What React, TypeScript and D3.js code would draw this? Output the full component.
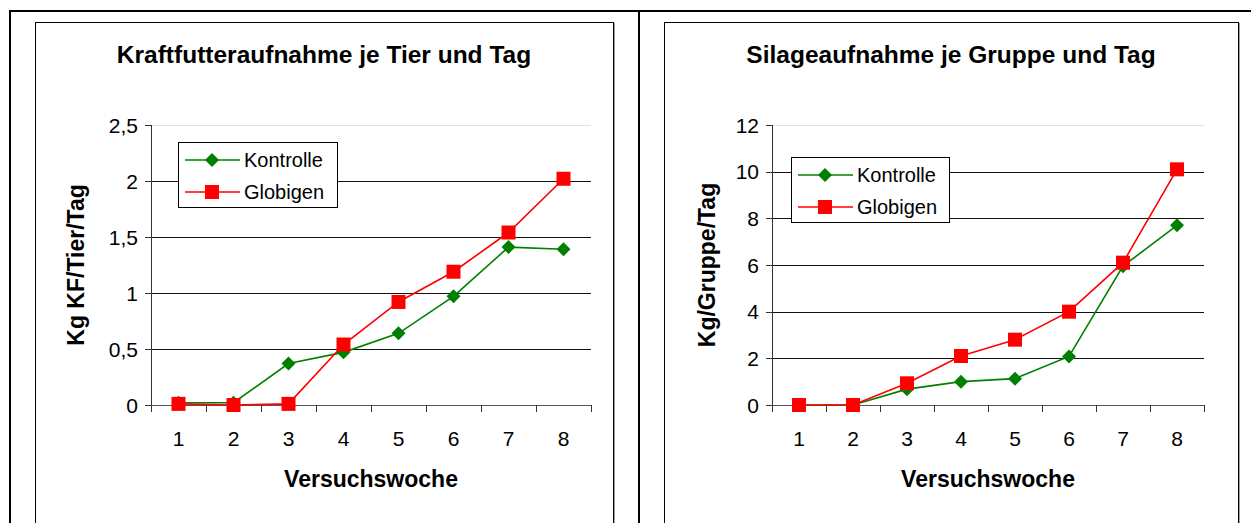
import React from "react";
import * as d3 from "d3";

const weeks = ["1", "2", "3", "4", "5", "6", "7", "8"];

const kfKontrolle = [0.02, 0.02, 0.37, 0.47, 0.64, 0.97, 1.41, 1.39];
const kfGlobigen = [0.01, 0.0, 0.01, 0.54, 0.92, 1.19, 1.54, 2.02];
const kfTicks = [0, 0.5, 1, 1.5, 2, 2.5];

const silKontrolle = [0, 0, 0.68, 1.0, 1.13, 2.08, 5.95, 7.7];
const silGlobigen = [0, 0, 0.93, 2.1, 2.8, 4.0, 6.1, 10.1];
const silTicks = [0, 2, 4, 6, 8, 10, 12];

const seriesNames = ["Kontrolle", "Globigen"];

const FONT = "'Liberation Sans', Arial, sans-serif";
const GREEN = "#008000";
const RED = "#ff0000";

type ChartProps = {
  box: [number, number];
  plot: { left: number; right: number; top: number; bottom: number };
  title: string;
  yLabel: string;
  yLabelX: number;
  ticks: number[];
  kontrolle: number[];
  globigen: number[];
  legend: { x: number; y: number; w: number; h: number };
};

function Chart({ box, plot, title, yLabel, yLabelX, ticks, kontrolle, globigen, legend }: ChartProps) {
  const x = d3.scaleBand().domain(weeks).range([plot.left, plot.right]);
  const y = d3
    .scaleLinear()
    .domain([0, d3.max(ticks) || 1])
    .range([plot.bottom, plot.top]);
  const cx = (w: string) => (x(w) || 0) + x.bandwidth() / 2;
  const fmt = (v: number) => String(v).replace(".", ",");

  const line = d3
    .line<number>()
    .x((_, i) => cx(weeks[i]))
    .y((d) => y(d));

  const boxCenter = (box[0] + box[1]) / 2;
  const plotCenterY = (plot.top + plot.bottom) / 2;
  const boundaries = weeks.map((w) => x(w) || 0).concat([plot.right]);

  const diamond = (px: number, py: number, r: number) =>
    `M${px},${py - r}L${px + r},${py}L${px},${py + r}L${px - r},${py}Z`;

  return (
    <g fontFamily={FONT}>
      {/* chart frame with shadow */}
      <line x1={box[1] + 1.5} y1={23} x2={box[1] + 1.5} y2={523} stroke="#a0a0a0" />
      <line x1={box[0] + 1} y1={522.5} x2={box[1] + 1} y2={522.5} stroke="#e0e0e0" />
      <rect x={box[0] + 0.5} y={22.5} width={box[1] - box[0]} height={520} fill="#fff" stroke="#000" />

      <text x={boxCenter} y={63} textAnchor="middle" fontSize={24.5} fontWeight="bold">
        {title}
      </text>

      {/* grid */}
      {ticks.map((t, i) => (
        <line
          key={t}
          x1={plot.left}
          x2={plot.right}
          y1={Math.round(y(t)) + 0.5}
          y2={Math.round(y(t)) + 0.5}
          stroke={i === ticks.length - 1 ? "#e2e2e2" : i === 0 ? "#555" : "#111"}
        />
      ))}

      {/* y axis */}
      <line x1={plot.left + 0.5} x2={plot.left + 0.5} y1={plot.top} y2={plot.bottom} stroke="#333" />
      {ticks.map((t) => (
        <g key={"yt" + t}>
          <line x1={plot.left - 6} x2={plot.left} y1={Math.round(y(t)) + 0.5} y2={Math.round(y(t)) + 0.5} stroke="#333" />
          <text x={plot.left - 13} y={y(t) + 7.5} textAnchor="end" fontSize={21}>
            {fmt(t)}
          </text>
        </g>
      ))}

      {/* x axis */}
      {boundaries.map((b, i) => (
        <line key={"xt" + i} x1={Math.round(b) + 0.5} x2={Math.round(b) + 0.5} y1={plot.bottom} y2={plot.bottom + 7} stroke="#333" />
      ))}
      {weeks.map((w) => (
        <text key={"xl" + w} x={cx(w)} y={plot.bottom + 41} textAnchor="middle" fontSize={21}>
          {w}
        </text>
      ))}
      <text x={(plot.left + plot.right) / 2} y={487} textAnchor="middle" fontSize={23} fontWeight="bold">
        Versuchswoche
      </text>
      <text
        transform={`translate(${yLabelX},${plotCenterY}) rotate(-90)`}
        textAnchor="middle"
        fontSize={23}
        fontWeight="bold"
      >
        {yLabel}
      </text>

      {/* series */}
      <path d={line(kontrolle) || ""} fill="none" stroke={GREEN} strokeWidth={1.6} />
      <path d={line(globigen) || ""} fill="none" stroke={RED} strokeWidth={1.6} />
      {kontrolle.map((v, i) => (
        <path key={"k" + i} d={diamond(cx(weeks[i]), y(v), 7)} fill={GREEN} />
      ))}
      {globigen.map((v, i) => (
        <rect key={"g" + i} x={cx(weeks[i]) - 7} y={y(v) - 7} width={14} height={14} fill={RED} />
      ))}

      {/* legend */}
      <rect x={legend.x + 0.5} y={legend.y + 0.5} width={legend.w} height={legend.h} fill="#fff" stroke="#000" />
      {seriesNames.map((name, i) => {
        const ly = legend.y + 18 + i * 32;
        const lx = legend.x + 7;
        const mx = lx + 27;
        return (
          <g key={name}>
            <line x1={lx} x2={lx + 55} y1={ly} y2={ly} stroke={i === 0 ? GREEN : RED} strokeWidth={1.6} />
            {i === 0 ? (
              <path d={diamond(mx, ly, 7)} fill={GREEN} />
            ) : (
              <rect x={mx - 7} y={ly - 7} width={14} height={14} fill={RED} />
            )}
            <text x={lx + 59} y={ly + 7} fontSize={20}>
              {name}
            </text>
          </g>
        );
      })}
    </g>
  );
}

export default function App() {
  return (
    <svg width={1251} height={523} style={{ position: "absolute", left: 0, top: 0, background: "#fff" }}>
      <rect width={1251} height={523} fill="#fff" />
      {/* outer table frame */}
      <line x1={9} x2={1251} y1={11} y2={11} stroke="#000" strokeWidth={2} />
      <line x1={10} x2={10} y1={10} y2={523} stroke="#000" strokeWidth={2} />
      <line x1={639} x2={639} y1={10} y2={523} stroke="#000" strokeWidth={2} />

      <Chart
        box={[35, 613]}
        plot={{ left: 151, right: 591, top: 125, bottom: 405 }}
        title="Kraftfutteraufnahme je Tier und Tag"
        yLabel="Kg KF/Tier/Tag"
        yLabelX={84}
        ticks={kfTicks}
        kontrolle={kfKontrolle}
        globigen={kfGlobigen}
        legend={{ x: 178, y: 142, w: 159, h: 65 }}
      />
      <Chart
        box={[664, 1238]}
        plot={{ left: 772, right: 1204, top: 125, bottom: 405 }}
        title="Silageaufnahme je Gruppe und Tag"
        yLabel="Kg/Gruppe/Tag"
        yLabelX={715}
        ticks={silTicks}
        kontrolle={silKontrolle}
        globigen={silGlobigen}
        legend={{ x: 791, y: 157, w: 158, h: 65 }}
      />
    </svg>
  );
}
